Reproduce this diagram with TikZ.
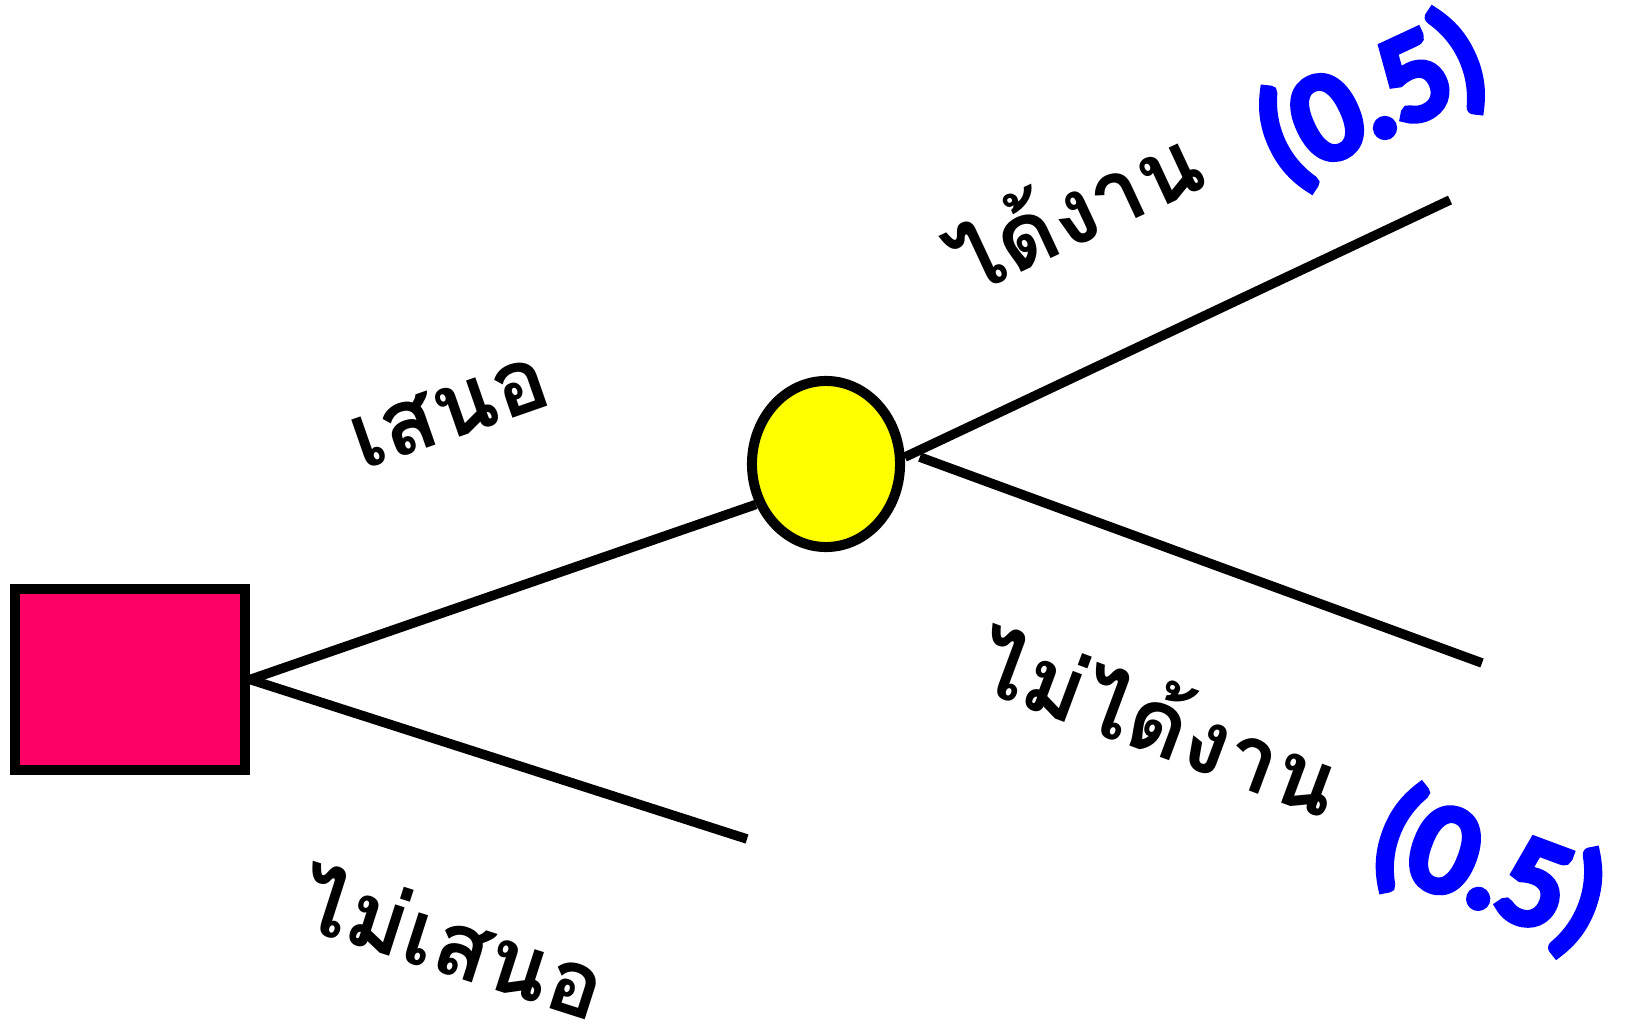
\documentclass[tikz,border=0pt]{standalone}
\usepackage{fontspec}
\newfontfamily\thaifont[Script=Thai]{Loma}
\newfontfamily\probfont{Carlito}[FakeBold=7]
\usetikzlibrary{shapes.geometric}
\definecolor{decisionred}{RGB}{255,0,102}
\definecolor{chanceyellow}{RGB}{255,255,0}

\begin{document}
\begin{tikzpicture}[
    x=0.01cm, y=-0.01cm,
    decision/.style={rectangle, draw, line width=2.85pt, fill=decisionred, minimum width=2.3cm, minimum height=1.81cm, inner sep=0pt},
    chance/.style={ellipse, draw, line width=2.85pt, fill=chanceyellow, minimum width=1.48cm, minimum height=1.66cm, inner sep=0pt},
    branch/.style={line width=2.7pt},
    choice/.style={font=\thaifont\bfseries\fontsize{26}{32}\selectfont, inner sep=0pt},
    prob/.style={font=\probfont\fontsize{36}{44}\selectfont, text=blue, inner sep=0pt}
]
    \useasboundingbox (0,0) rectangle (1625,1031);

    % Decision node
    \node[decision] (offer) at (130,679.5) {};

    % Chance node
    \node[chance] (job) at (826,464) {};

    % Free ends
    \coordinate (nooffer_end) at (747,839);
    \coordinate (getjob_end) at (1450,200);
    \coordinate (nojob_end) at (1482,663);

    % Branches
    \draw[branch] (offer.east) -- (job.210);
    \draw[branch] (offer.east) -- (nooffer_end);
    \draw[branch] (job.5) -- (getjob_end);
    \draw[branch] ([xshift=0.15cm]job.5) -- (nojob_end);

    % Labels
    \node[choice, rotate=19.2] (offer_lbl) at (450,412) {เสนอ};
    \node[choice, rotate=-17.8] (nooffer_lbl) at (453,940) {ไม่เสนอ};
    \node[choice, rotate=25] (getjob_lbl) at (1072,207) {ได้งาน};
    \node[choice, rotate=-20.4] (nojob_lbl) at (1160,717) {ไม่ได้งาน};

    % Probabilities
    \node[prob, rotate=25] (getjob_p) at (1372,100) {(0.5)};
    \node[prob, rotate=-20.4] (nojob_p) at (1489,870) {(0.5)};

\end{tikzpicture}
\end{document}
